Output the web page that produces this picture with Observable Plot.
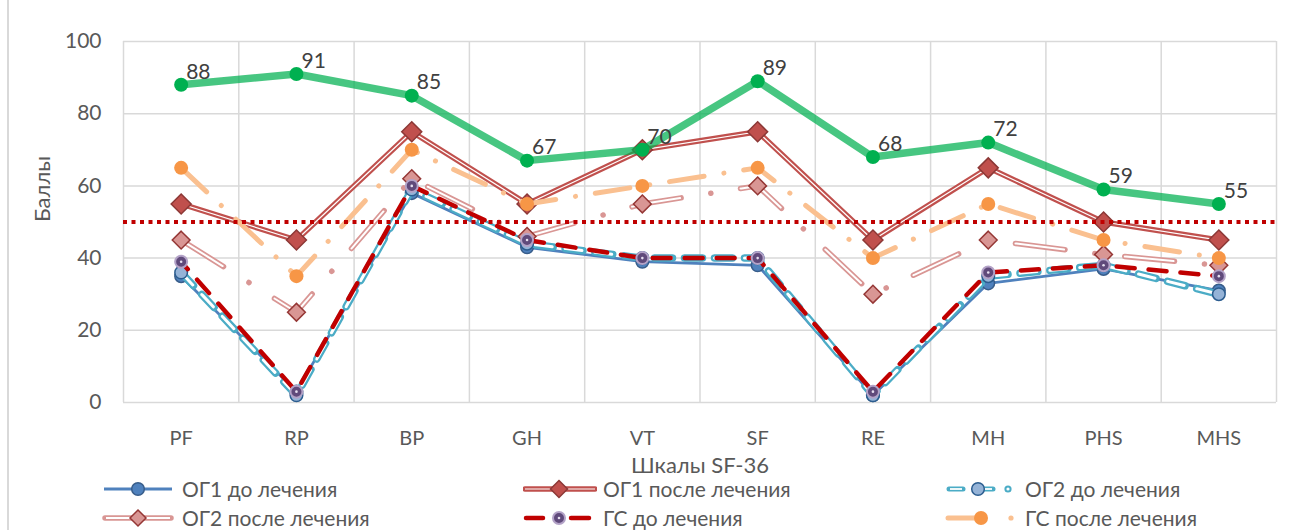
<!DOCTYPE html>
<html><head><meta charset="utf-8">
<script src="https://cdn.jsdelivr.net/npm/d3@7"></script>
<script src="https://cdn.jsdelivr.net/npm/@observablehq/plot@0.6"></script>
<style>
body{margin:0;background:#fff;font-family:Lato,"Noto Sans",sans-serif;}
#wrap{position:relative;width:1305px;height:530px;overflow:hidden;background:#fff}
#border{position:absolute;left:7px;top:0;width:1.5px;height:530px;background:#d9d9d9}
.leg{position:absolute;display:flex;align-items:center;font-size:21px;color:#595959;white-space:nowrap;height:26px;line-height:26px}
.leg svg{margin-right:6px}
</style></head><body>
<div id="wrap"><div id="chart"></div><div id="border"></div><div id="legend"></div></div>
<script>
// ---- data ----
const categories = ["PF","RP","BP","GH","VT","SF","RE","MH","PHS","MHS"];
const og1Before = [35,3,58,43,39,38,2,33,37,31];
const og1After  = [55,45,75,55,70,75,45,65,50,45];
const og2Before = [36,2,59,44,40,40,2,35,38,30];
const og2After  = [45,25,62,46,55,60,30,45,41,38];
const gsBefore  = [39,3,60,45,40,40,3,36,38,35];
const gsAfter   = [65,35,70,55,60,65,40,55,45,40];
const norm      = [88,91,85,67,70,89,68,72,59,55];
const threshold = [50];
const yTicks = [0,20,40,60,80,100];
const seriesNames = ["ОГ1 до лечения","ОГ1 после лечения","ОГ2 до лечения","ОГ2 после лечения","ГС до лечения","ГС после лечения"];
const xTitle = "Шкалы SF-36";
const yTitle = "Баллы";

const rows = vals => vals.map((v, i) => ({x: i + 0.5, v, cat: categories[i]}));
const d1b = rows(og1Before), d1a = rows(og1After), d2b = rows(og2Before),
      d2a = rows(og2After), dgb = rows(gsBefore), dga = rows(gsAfter), dn = rows(norm);

const line = (data, o) => Plot.line(data, {x: "x", y: "v", strokeLinejoin: "round", ...o});
const dot = (data, o) => Plot.dot(data, {x: "x", y: "v", ...o});

const chart = Plot.plot({
  width: 1305, height: 530,
  marginTop: 41, marginBottom: 128, marginLeft: 123, marginRight: 29,
  style: {fontFamily: "Lato, 'Noto Sans', sans-serif", background: "transparent"},
  x: {type: "linear", domain: [0, categories.length], label: null},
  y: {domain: [0, 100], label: null},
  marks: [
    Plot.gridY(yTicks, {stroke: "#d9d9d9", strokeOpacity: 1, strokeWidth: 1.5}),
    Plot.gridX(d3.range(categories.length + 1), {stroke: "#d9d9d9", strokeOpacity: 1, strokeWidth: 1.5}),
    Plot.axisY(yTicks, {tickSize: 0, tickPadding: 22, fontSize: 21, fill: "#595959", label: null}),
    Plot.axisX(d3.range(categories.length).map(i => i + 0.5), {tickSize: 0, tickPadding: 28, fontSize: 20, fill: "#595959", label: null,
      tickFormat: d => categories[Math.floor(d)]}),
    Plot.text([xTitle], {frameAnchor: "bottom", dy: 70, fontSize: 22, fill: "#595959"}),
    Plot.text([yTitle], {frameAnchor: "left", dx: -81, rotate: -90, fontSize: 22, fill: "#595959"}),

    // ОГ1 до лечения
    line(d1b, {stroke: "#4f81bd", strokeWidth: 2.8}),
    dot(d1b, {r: 6.3, fill: "#4f81bd", stroke: "#385d8a", strokeWidth: 1.5}),
    // ОГ1 после лечения (double line)
    line(d1a, {stroke: "#c0504d", strokeWidth: 5.5}),
    line(d1a, {stroke: "#fff", strokeWidth: 1.2}),
    dot(d1a, {symbol: "diamond2", r: 9, fill: "#c0504d", stroke: "#8c3836", strokeWidth: 1.5}),
    // ОГ2 до лечения (double dashed)
    line(d2b, {stroke: "#4bacc6", strokeWidth: 7.5, strokeDasharray: "18,12", strokeLinecap: "round"}),
    line(d2b, {stroke: "#fff", strokeWidth: 3, strokeDasharray: "0,1,16,13"}),
    dot(d2b, {r: 6.3, fill: "#95b3d7", stroke: "#2c5d8f", strokeWidth: 1.5}),
    // ОГ2 после лечения (double long dash dot)
    line(d2a, {stroke: "#d99694", strokeWidth: 5.5, strokeDasharray: "50,30,0.1,30", strokeLinecap: "round"}),
    line(d2a, {stroke: "#fff", strokeWidth: 2, strokeDasharray: "0,1,48,61.1"}),
    dot(d2a, {symbol: "diamond2", r: 8, fill: "#d99694", stroke: "#953735", strokeWidth: 1.5}),
    // ГС до лечения
    line(dgb, {stroke: "#c00000", strokeWidth: 4.5, strokeDasharray: "18,14", strokeDashoffset: 8, strokeLinecap: "round"}),
    dot(dgb, {r: 6, fill: "#604a7b", stroke: "#b3a2c7", strokeWidth: 2}),
    dot(dgb, {r: 1.3, fill: "#e6dff0"}),
    // ГС после лечения
    line(dga, {stroke: "#fac090", strokeWidth: 5, strokeDasharray: "35,20,0.1,20", strokeLinecap: "round"}),
    dot(dga, {r: 7, fill: "#f79646"}),
    // threshold
    Plot.ruleY(threshold, {stroke: "#c00000", strokeWidth: 4, strokeDasharray: "4,4.5"}),
    // norm (green)
    line(dn, {stroke: "#00b050", strokeOpacity: 0.72, strokeWidth: 7.5}),
    dot(dn, {r: 7, fill: "#00b050"}),
    Plot.text(dn, {x: "x", y: "v", text: d => String(d.v), textAnchor: "start", dx: 5, dy: -13, fontSize: 21, fill: "#404040"})
  ]
});
document.getElementById("chart").appendChild(chart);

// ---- legend ----
const swatches = [
  `<line x1="2" y1="10" x2="70" y2="10" stroke="#4f81bd" stroke-width="2.8"/><circle cx="36" cy="10" r="6.3" fill="#4f81bd" stroke="#385d8a" stroke-width="1.5"/>`,
  `<line x1="2" y1="10" x2="72" y2="10" stroke="#c0504d" stroke-width="5.5" stroke-linecap="round"/><line x1="2" y1="10" x2="72" y2="10" stroke="#fff" stroke-width="1.2"/><path d="M36,1.5L44.5,10L36,18.5L27.5,10Z" fill="#c0504d" stroke="#8c3836" stroke-width="1.5"/>`,
  `<line x1="4" y1="10" x2="18" y2="10" stroke="#4bacc6" stroke-width="5" stroke-linecap="round"/><line x1="5" y1="10" x2="17" y2="10" stroke="#fff" stroke-width="1.8"/><line x1="32" y1="10" x2="48" y2="10" stroke="#4bacc6" stroke-width="5" stroke-linecap="round"/><line x1="38" y1="10" x2="47" y2="10" stroke="#fff" stroke-width="1.8"/><circle cx="33" cy="10" r="6.3" fill="#95b3d7" stroke="#2c5d8f" stroke-width="1.5"/><circle cx="63" cy="10" r="2.6" fill="none" stroke="#4bacc6" stroke-width="2"/>`,
  `<line x1="3" y1="10" x2="69" y2="10" stroke="#d99694" stroke-width="5.5" stroke-linecap="round"/><line x1="4" y1="10" x2="68" y2="10" stroke="#fff" stroke-width="2"/><path d="M36,2L44,10L36,18L28,10Z" fill="#d99694" stroke="#953735" stroke-width="1.5"/>`,
  `<line x1="3" y1="10" x2="20" y2="10" stroke="#c00000" stroke-width="4.5" stroke-linecap="round"/><line x1="48" y1="10" x2="66" y2="10" stroke="#c00000" stroke-width="4.5" stroke-linecap="round"/><circle cx="36" cy="10" r="6" fill="#604a7b" stroke="#b3a2c7" stroke-width="2"/><circle cx="36" cy="10" r="1.3" fill="#e6dff0"/>`,
  `<line x1="3" y1="10" x2="36" y2="10" stroke="#fac090" stroke-width="5" stroke-linecap="round"/><circle cx="36" cy="10" r="7" fill="#f79646"/><circle cx="66" cy="10" r="2.6" fill="#fac090"/>`
];
const legPos = [[102, 476], [523, 476], [945, 476], [102, 505], [523, 505], [945, 505]];
const legend = document.getElementById("legend");
seriesNames.forEach((name, k) => {
  const div = document.createElement("div");
  div.className = "leg";
  div.style.left = legPos[k][0] + "px";
  div.style.top = legPos[k][1] + "px";
  div.innerHTML = `<svg width="74" height="20">${swatches[k]}</svg><span>${name}</span>`;
  legend.appendChild(div);
});
</script>
</body></html>
